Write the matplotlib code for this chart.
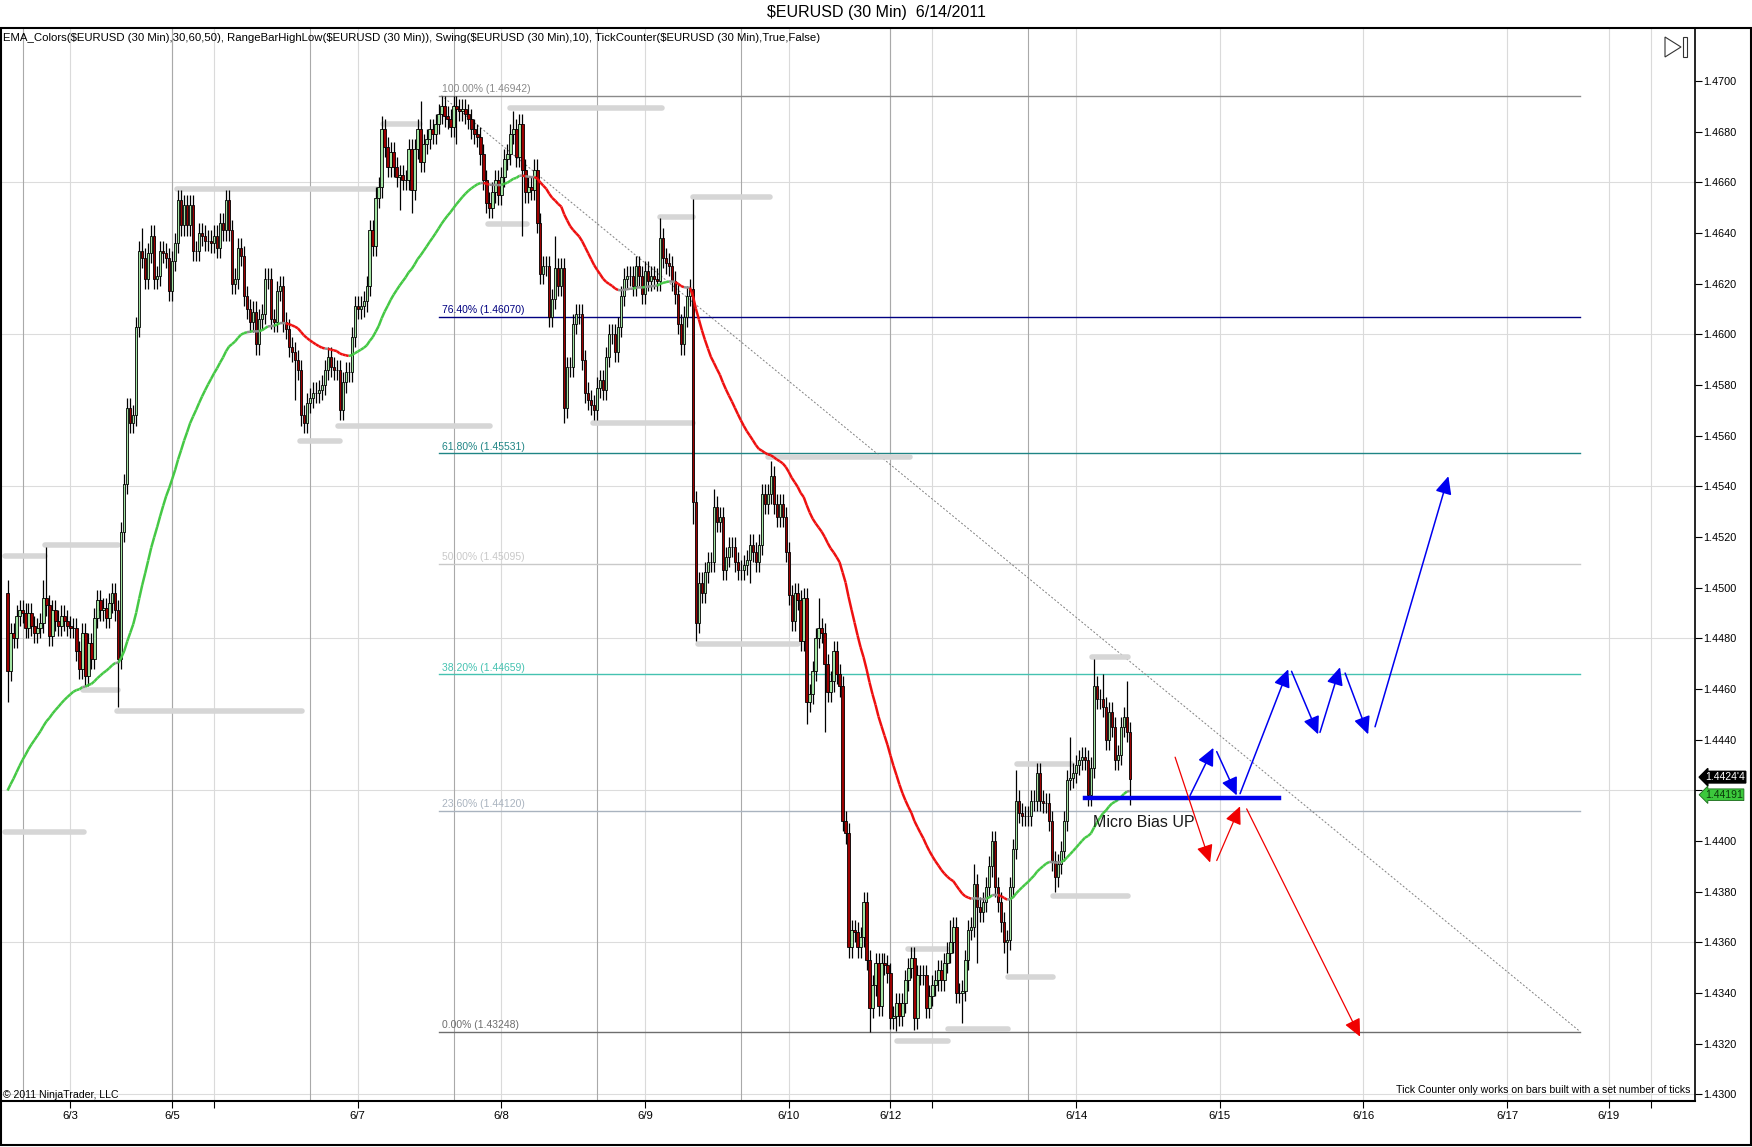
import matplotlib
matplotlib.use('Agg')
import matplotlib.pyplot as plt
from matplotlib.collections import LineCollection
from matplotlib.patches import Rectangle, Polygon
from matplotlib.ticker import FixedFormatter
import matplotlib.transforms as mtransforms
import numpy as np

plt.rcParams['font.family'] = ['Liberation Sans', 'DejaVu Sans']

W, H = 1752, 1147
BASE = 1.4300
PIP = 0.0001

# 30 min closes, pips above 1.4300
closes = [
  167,182,180,189,191,190,184,190,185,182, 184,186,196,193,181,191,187,185,189,187,
  185,184,184,175,168,182,165,178,172,188, 195,191,192,188,194,198,191,172,222,241,
  271,265,268,303,333,330,322,332,339,322, 323,333,332,330,317,329,336,353,343,351,
  343,351,333,333,340,339,337,337,336,339, 334,344,341,353,341,320,322,334,331,315,
  310,305,309,296,306,308,322,322,306,305, 317,319,305,302,295,293,290,286,268,265,
  273,275,277,277,278,280,286,291,287,286, 286,270,281,285,285,299,311,310,311,313,
  319,341,335,354,358,381,374,366,372,366, 362,363,361,361,373,357,373,381,368,375,
  377,381,379,383,387,390,386,385,382,390, 389,388,389,387,385,381,379,378,371,361,
  352,350,356,361,355,362,369,371,379,381, 370,383,365,356,358,357,365,344,324,327,
  327,307,314,326,319,326,271,287,287,304, 308,308,290,277,274,272,270,279,282,278,
  291,300,300,293,303,315,322,323,323,319, 327,323,316,325,321,323,322,321,338,330,
  328,327,321,316,304,296,307,315,318,234, 186,202,198,206,210,210,232,226,228,207,
  212,216,216,210,207,207,209,211,217,214, 210,217,237,233,237,244,233,228,233,228,
  214,197,187,198,195,179,196,155,158,167, 180,184,182,170,159,163,175,166,161,108,
  103,58,65,64,58,62,76,53,34,43, 52,35,52,51,48,30,31,36,31,36,
  45,50,54,30,47,47,47,34,39,43, 45,49,45,52,56,60,66,40,40,41,
  53,65,66,83,74,72,76,82,90,100, 82,76,68,60,61,82,97,116,111,110,
  110,110,116,116,127,116,115,115,108,92, 86,91,96,108,124,125,127,130,132,133,
  132,118,129,161,156,156,153,140,151,145, 132,134,145,149,143,124.4,
]
first_open = 198
high_marks = {0: 203, 12: 203, 13: 216, 45: 342, 73: 356, 125: 386, 138: 392,
              145: 394.2, 169: 388, 183: 339, 218: 346, 229: 353.5, 236: 239,
              255: 250, 271: 196, 315: 69, 323: 91, 329: 103, 337: 128, 344: 129,
              355: 141, 363: 172, 366: 166, 374: 163}
low_marks = {0: 155, 37: 153, 96: 274, 99: 263, 131: 349, 135: 348, 150: 375,
             172: 339, 186: 265, 196: 267, 229: 225, 230: 179, 248: 202, 267: 146,
             273: 143, 288: 24.8, 295: 26, 297: 25, 303: 25.5, 319: 28, 324: 52,
             333: 57, 334: 48, 350: 80, 375: 114.4}
wick = 4

ema_seed = 118
ema_len = 50

# bar index of each midnight, and of session breaks
day_ticks = [21, 55, 69, 117, 165, 213, 261, 295, 309, 357, 405, 453, 501, 535, 549]
day_labels = ['6/3', '6/5', '', '6/7', '6/8', '6/9', '6/10', '6/12', '', '6/14',
              '6/15', '6/16', '6/17', '6/19', '']
break_lines = [5, 55, 101, 149, 197, 245, 295, 341]

price_ticks = [1.4300, 1.4320, 1.4340, 1.4360, 1.4380, 1.4400, 1.4420, 1.4440, 1.4460,
               1.4480, 1.4500, 1.4520, 1.4540, 1.4560, 1.4580, 1.4600, 1.4620, 1.4640,
               1.4660, 1.4680, 1.4700]
hidden_tick = 1.4420   # covered by the price markers

fib_low, fib_high = 1.43248, 1.46942
fib_start, fib_end = 145, 525.4
fib_pcts = [0.0, 23.6, 38.2, 50.0, 61.8, 76.4, 100.0]
fib_colors = ['#6e6e6e', '#a9b3bf', '#45c2b1', '#c9c9c9', '#1f8585', '#000080', '#8a8a8a']

# RangeBarHighLow marks: (from bar, to bar, pips)
range_bars = [
  (-0.8, 12.5, 212.5), (12.5, 36.9, 216.8), (-0.8, 25.5, 103.7), (25.2, 36.9, 159.7),
  (36.6, 98.4, 151.3), (56.6, 123.4, 357.5), (97.7, 111.1, 257.7), (110.4, 161.2, 264),
  (125.4, 137.8, 382.9), (160.5, 173.6, 343.6), (167.9, 218.7, 389.5), (195.6, 229, 265),
  (218, 229, 346.5), (229, 254.7, 354.3), (230.7, 264.1, 177.9), (254, 301.5, 251.4),
  (297.2, 314.2, 21.1), (300.9, 313.9, 57.2), (314.2, 334.3, 25.9), (334.3, 349.3, 46.3),
  (337.3, 355.7, 130.5), (349.3, 374.4, 78.5), (362.3, 374.4, 172.5),
]

bias_level = 117
bias_from, bias_to = 360, 424.8

blue_moves = [((395.1, 118), (402.9, 136.8)), ((404, 135.3), (410.7, 118)),
              ((411.8, 118.7), (427.9, 167.8)), ((429, 167), (437.9, 142.1)),
              ((438.5, 142.9), (445.2, 168.6)), ((446.9, 166.3), (454.6, 142.1)),
              ((456.9, 145.1), (481.4, 244))]
red_moves = [((390.1, 133.1), (401.8, 91.5)), ((404, 92.3), (411.8, 113.7)),
             ((414, 112.7), (451.9, 22.8))]

last_price = 1.44244
last_ema = 1.44191


def px(p):
    return BASE + np.asarray(p, dtype=float) * PIP


n = len(closes)
idx = np.arange(n)
c = px(closes)
o = np.r_[px(first_open), c[:-1]]
hi = np.maximum(o, c) + wick * PIP
lo = np.minimum(o, c) - wick * PIP
for k, v in high_marks.items():
    hi[k] = max(hi[k], px(v))
for k, v in low_marks.items():
    lo[k] = min(lo[k], px(v))

alpha = 2.0 / (ema_len + 1)
ema = np.empty(n)
e = px(ema_seed)
for i in range(n):
    e = e + alpha * (c[i] - e)
    ema[i] = e

fig = plt.figure(figsize=(W / 100, H / 100), dpi=100)
ax = fig.add_axes([0, 1 - 1101 / H, 1695 / W, (1101 - 28) / H])
ax.set_xlim(-2.52, 563.8)
ax.set_ylim(1.42974, 1.47209)

# grid
for lvl in np.arange(1.4300, 1.4701, 0.006):
    ax.axhline(lvl, color='#dcdcdc', lw=0.8, zorder=0)
for t in day_ticks:
    ax.axvline(t, color='#dadada', lw=0.8, zorder=0)
for t in break_lines:
    ax.axvline(t, color='#a9a9a9', lw=0.8, zorder=0)

# fibonacci retracement
for pct, col in zip(fib_pcts, fib_colors):
    lvl = fib_low + pct / 100 * (fib_high - fib_low)
    ax.plot([fib_start - 0.7, fib_end], [lvl, lvl], color=col, lw=1.0, zorder=1.5)
    ax.text(fib_start, lvl + 0.00005, '%.2f%% (%.5f)' % (pct, lvl), color=col,
            fontsize=7.5, ha='left', va='bottom', zorder=1.5)
ax.plot([fib_start, fib_end], [fib_high, fib_low], color='#808080', lw=0.7,
        dashes=(2, 2), zorder=1.5)

# range bar high/low marks
for a, b, p in range_bars:
    ax.plot([a, b], [px(p), px(p)], color='#d6d6d6', lw=4, solid_capstyle='round', zorder=2)

# candles
up = c >= o
ax.vlines(idx, lo, hi, color='black', lw=0.9, zorder=3)
ax.bar(idx, np.abs(c - o), bottom=np.minimum(o, c), width=0.8,
       color=np.where(up, '#a3e4a3', '#9b0000'), edgecolor='black', linewidth=0.6, zorder=3.5)

# colored EMA
seg = np.stack([np.c_[idx[:-1], ema[:-1]], np.c_[idx[1:], ema[1:]]], axis=1)
slope = np.diff(ema) / PIP
ecol = np.where(slope > 0.25, '#45c845', np.where(slope < -0.25, '#ee1010', '#909090'))
ax.add_collection(LineCollection(seg, colors=ecol, linewidths=1.8, zorder=4))

# bias line, text and arrows
ax.plot([bias_from, bias_to], [px(bias_level), px(bias_level)], color='#0000ee', lw=3.2, zorder=5)
ax.text(362.7, px(107.4), 'Micro Bias UP', fontsize=11.5, color='#1a1a1a',
        ha='left', va='center', zorder=6)
for moves, col, lw in [(blue_moves, '#0000f0', 1.1), (red_moves, '#f00000', 0.9)]:
    for (x0, y0), (x1, y1) in moves:
        ax.annotate('', xy=(x1, px(y1)), xytext=(x0, px(y0)),
                    arrowprops=dict(arrowstyle='-|>,head_length=0.9,head_width=0.42',
                                    color=col, lw=lw, shrinkA=0, shrinkB=0,
                                    mutation_scale=12), zorder=6)

# axes styling
for s in ['top', 'left']:
    ax.spines[s].set_visible(False)
ax.spines['right'].set_linewidth(1.2)
ax.spines['bottom'].set_linewidth(1.5)
ax.yaxis.tick_right()
ax.set_yticks(price_ticks)
ax.yaxis.set_major_formatter(FixedFormatter(
    ['' if abs(t - hidden_tick) < 1e-9 else '%.4f' % t for t in price_ticks]))
ax.tick_params(axis='y', direction='out', length=5, width=0.8, pad=1, labelsize=7.8)
ax.set_xticks(day_ticks)
ax.set_xticklabels(day_labels)
ax.tick_params(axis='x', direction='out', length=5, width=0.8, pad=2, labelsize=8.2)

# last price / ema markers on the price axis
trans = mtransforms.blended_transform_factory(ax.transAxes, ax.transData)
up_shift = trans + mtransforms.ScaledTranslation(0, 1.5 / 72, fig.dpi_scale_trans)
dn_shift = trans + mtransforms.ScaledTranslation(0, -1.5 / 72, fig.dpi_scale_trans)
ax.text(1.006, last_price, "1.4424'4", transform=up_shift, color='white', fontsize=7.5,
        ha='left', va='center', clip_on=False, zorder=7,
        bbox=dict(boxstyle='larrow,pad=0.08', fc='black', ec='black'))
ax.text(1.006, last_ema, '%.5f' % last_ema, transform=dn_shift, color='#0a3a0a', fontsize=7.5,
        ha='left', va='center', clip_on=False, zorder=7,
        bbox=dict(boxstyle='larrow,pad=0.08', fc='#3cc83c', ec='#1a6a1a', lw=0.6))

# chart texts
fig.text(0.5, 1 - 13 / H, r'\$EURUSD (30 Min)  6/14/2011', fontsize=11.5, ha='center', va='center')
ax.text(0.002, 1 - 10 / 1073,
        r'EMA_Colors(\$EURUSD (30 Min),30,60,50), RangeBarHighLow(\$EURUSD (30 Min)), '
        r'Swing(\$EURUSD (30 Min),10), TickCounter(\$EURUSD (30 Min),True,False)',
        transform=ax.transAxes, fontsize=8.2, ha='left', va='center')
ax.text(0.002, 6 / 1073, '\u00a9 2011 NinjaTrader, LLC', transform=ax.transAxes,
        fontsize=7.6, ha='left', va='center')
ax.text(0.997, 11 / 1073, 'Tick Counter only works on bars built with a set number of ticks',
        transform=ax.transAxes, fontsize=7.6, ha='right', va='center')

# frame and play icon
fig.add_artist(Rectangle((0.5 / W, 1 - 1145 / H), 1750 / W, (1145 - 28) / H,
                         transform=fig.transFigure, fill=False, ec='black', lw=1.5))
fig.add_artist(Polygon([(1665 / W, 1 - 37 / H), (1665 / W, 1 - 57 / H), (1681 / W, 1 - 47 / H)],
                       closed=True, transform=fig.transFigure, fill=False, ec='#333333', lw=0.8))
fig.add_artist(Rectangle((1683 / W, 1 - 57 / H), 3.5 / W, 20 / H, transform=fig.transFigure,
                         fill=False, ec='#333333', lw=0.8))

fig.savefig('out.png', dpi=100)
